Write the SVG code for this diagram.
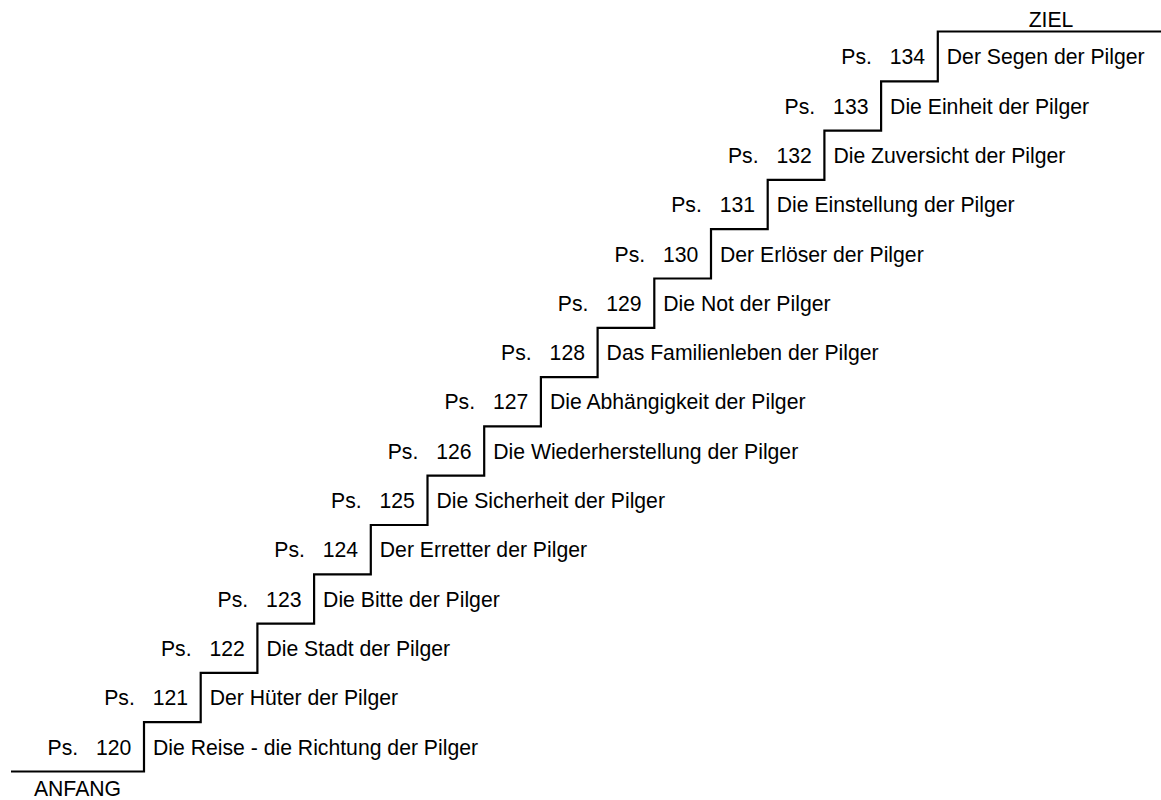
<svg xmlns="http://www.w3.org/2000/svg" width="1161" height="800" viewBox="0 0 1161 800">
<style>
text{font-family:"Liberation Sans",Arial,sans-serif;font-size:21.2px;fill:#000}
.mid{text-anchor:middle}
.stair{fill:none;stroke:#000;stroke-width:2.2;stroke-linejoin:miter}
</style>
<rect width="1161" height="800" fill="#fff"/>
<g id="connectors">
<path class="stair" d="M11,771.5 H144 V722.2 H200.7 V672.9 H257.4 V623.6 H314.1 V574.3 H370.8 V525 H427.5 V475.7 H484.2 V426.4 H540.9 V377.1 H597.6 V327.8 H654.3 V278.5 H711 V229.2 H767.7 V179.9 H824.4 V130.6 H881.1 V81.3 H937.8 V31.5 H1161"/>
</g>
<g id="anfang"><text class="mid" x="77.5" y="796">ANFANG</text></g>
<g id="ziel"><text class="mid" x="1051" y="26.5">ZIEL</text></g>
<g id="ps120" transform="translate(144,754.5)"><text x="-96.5">Ps.</text><text x="-48">120</text><text x="9">Die Reise - die Richtung der Pilger</text></g>
<g id="ps121" transform="translate(200.7,705.2)"><text x="-96.5">Ps.</text><text x="-48">121</text><text x="9">Der Hüter der Pilger</text></g>
<g id="ps122" transform="translate(257.4,655.9)"><text x="-96.5">Ps.</text><text x="-48">122</text><text x="9">Die Stadt der Pilger</text></g>
<g id="ps123" transform="translate(314.1,606.6)"><text x="-96.5">Ps.</text><text x="-48">123</text><text x="9">Die Bitte der Pilger</text></g>
<g id="ps124" transform="translate(370.8,557.3)"><text x="-96.5">Ps.</text><text x="-48">124</text><text x="9">Der Erretter der Pilger</text></g>
<g id="ps125" transform="translate(427.5,508)"><text x="-96.5">Ps.</text><text x="-48">125</text><text x="9">Die Sicherheit der Pilger</text></g>
<g id="ps126" transform="translate(484.2,458.7)"><text x="-96.5">Ps.</text><text x="-48">126</text><text x="9">Die Wiederherstellung der Pilger</text></g>
<g id="ps127" transform="translate(540.9,409.4)"><text x="-96.5">Ps.</text><text x="-48">127</text><text x="9">Die Abhängigkeit der Pilger</text></g>
<g id="ps128" transform="translate(597.6,360.1)"><text x="-96.5">Ps.</text><text x="-48">128</text><text x="9">Das Familienleben der Pilger</text></g>
<g id="ps129" transform="translate(654.3,310.8)"><text x="-96.5">Ps.</text><text x="-48">129</text><text x="9">Die Not der Pilger</text></g>
<g id="ps130" transform="translate(711,261.5)"><text x="-96.5">Ps.</text><text x="-48">130</text><text x="9">Der Erlöser der Pilger</text></g>
<g id="ps131" transform="translate(767.7,212.2)"><text x="-96.5">Ps.</text><text x="-48">131</text><text x="9">Die Einstellung der Pilger</text></g>
<g id="ps132" transform="translate(824.4,162.9)"><text x="-96.5">Ps.</text><text x="-48">132</text><text x="9">Die Zuversicht der Pilger</text></g>
<g id="ps133" transform="translate(881.1,113.6)"><text x="-96.5">Ps.</text><text x="-48">133</text><text x="9">Die Einheit der Pilger</text></g>
<g id="ps134" transform="translate(937.8,64.3)"><text x="-96.5">Ps.</text><text x="-48">134</text><text x="9">Der Segen der Pilger</text></g>
</svg>
